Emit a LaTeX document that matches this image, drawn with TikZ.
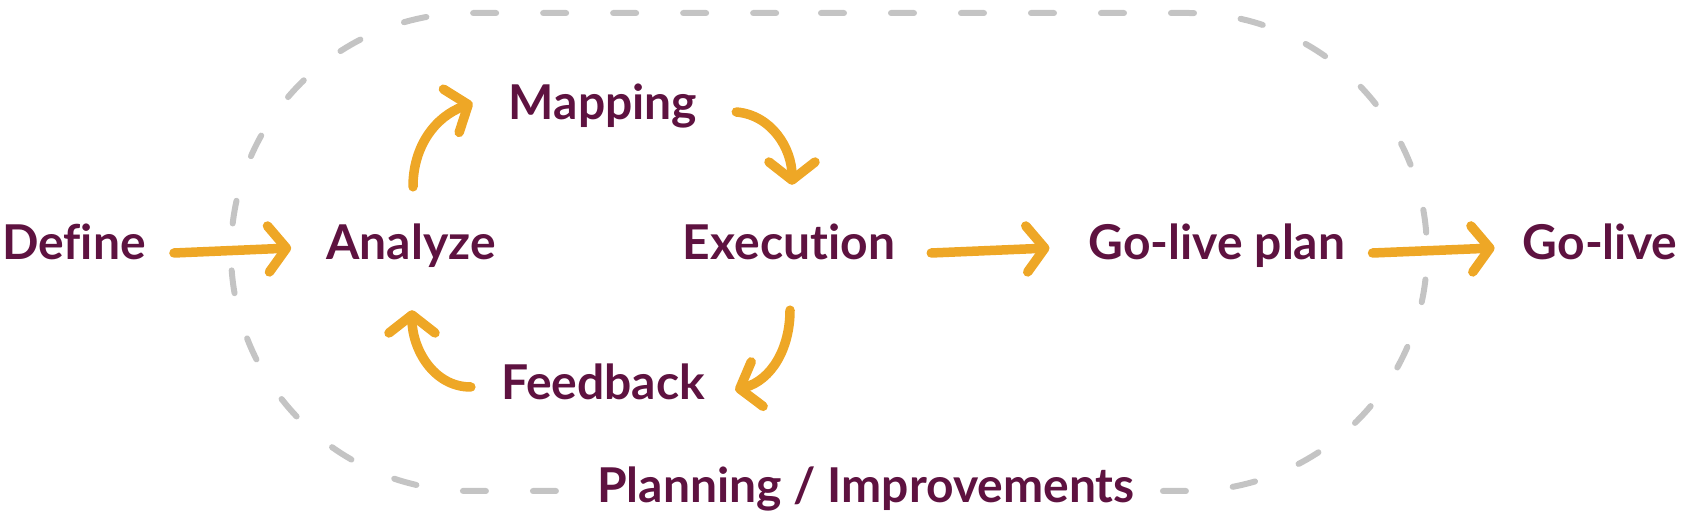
\documentclass[tikz,border=0pt]{standalone}
\usepackage{fontspec}
\setmainfont{Lato}[Ligatures=NoCommon]
\usetikzlibrary{arrows.meta,positioning}
\definecolor{plum}{RGB}{94,18,64}
\definecolor{saffron}{RGB}{238,167,38}
\definecolor{mist}{RGB}{196,196,196}
\tikzset{
  >={Straight Barb[length=18pt,width=46pt,round]},
  stage/.style={font=\fontsize{48}{50}\selectfont\bfseries,text=plum,inner sep=0pt,
    text height=34pt,text depth=14pt,anchor=base},
  flow/.style={->,line width=9.5pt,draw=#1,line cap=round},
  flow/.default=saffron,
  boundary/.style={draw=mist,line width=6pt,line cap=round,dash pattern=on 23pt off 47pt},
}
\begin{document}
\begin{tikzpicture}[x=1pt,y=1pt]
  \useasboundingbox (0,0) rectangle (1681,516);
  % planning loop
  \draw[boundary] (821,503) -- (1188,503) arc[start angle=90,end angle=-90,radius=239]
    -- (470,25) arc[start angle=270,end angle=90,radius=239] -- cycle;
  \node[stage] (define) at (74,256) {Define};
  \node[stage] (analyze) at (411,256) {Analyze};
  \node[stage] (mapping) at (603,396) {Mapping};
  \node[stage] (execution) at (789,256) {Execution};
  \node[stage] (feedback) at (603,116) {Feedback};
  \node[stage] (golivePlan) at (1217,256) {Go-live plan};
  \node[stage] (golive) at (1600,256) {Go-live};
  \node[stage,fill=white,inner xsep=22pt] (planning) at (866,13) {Planning / Improvements};
  % straight steps
  \draw[flow] ([shift={(28,-3)}]define.east) -- ([shift={(-35,2)}]analyze.west);
  \draw[flow] ([shift={(36,-3)}]execution.east) -- ([shift={(-39,2)}]golivePlan.west);
  \draw[flow] ([shift={(27,-3)}]golivePlan.east) -- ([shift={(-28,2)}]golive.west);
  % inner cycle
  \draw[flow] ([shift={(2,39)}]analyze.north) to[out=90,in=200] ([shift={(-36,7)}]mapping.west);
  \draw[flow] ([shift={(39,-2)}]mapping.east) to[out=-5,in=90] ([shift={(3,41)}]execution.north);
  \draw[flow] ([shift={(1,-36)}]execution.south) to[out=-90,in=15] ([shift={(30,0)}]feedback.east);
  \draw[flow] ([shift={(-30,3)}]feedback.west) to[out=180,in=-90] ([shift={(1,-36)}]analyze.south);
\end{tikzpicture}
\end{document}
